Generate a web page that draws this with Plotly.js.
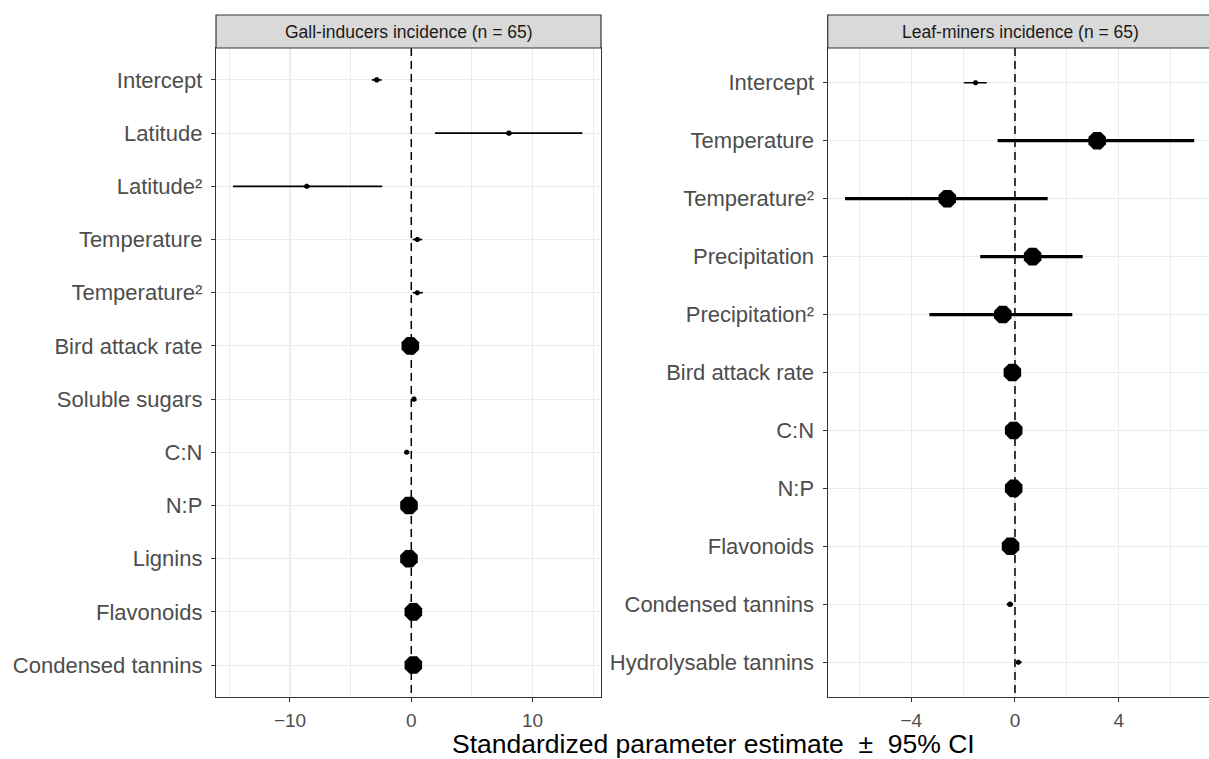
<!DOCTYPE html>
<html>
<head>
<meta charset="utf-8">
<script src="https://cdn.plot.ly/plotly-3.0.1.min.js"></script>
<style>html,body{margin:0;padding:0;background:#fff;}#chart{width:1209px;height:759px;}</style>
</head>
<body>
<div id="chart"></div>
<script>
// ---------- Data ----------
const gallTitle = "Gall-inducers incidence (n = 65)";
const gallTerms = ["Intercept","Latitude","Latitude²","Temperature","Temperature²","Bird attack rate","Soluble sugars","C:N","N:P","Lignins","Flavonoids","Condensed tannins"];
const gallEst = [-2.85, 8.05, -8.62, 0.50, 0.50, -0.08, 0.22, -0.38, -0.19, -0.19, 0.17, 0.17];
const gallLo  = [-3.25, 1.95, -14.70, 0.12, 0.12, -0.35, 0.10, -0.50, -0.45, -0.45, -0.10, -0.10];
const gallHi  = [-2.45, 14.10, -2.40, 0.90, 0.95, 0.20, 0.40, -0.25, 0.05, 0.05, 0.45, 0.45];
const gallImportance = [0.12, 0.1, 0.1, 0.1, 0.1, 1, 0.1, 0.1, 1, 1, 1, 1];

const leafTitle = "Leaf-miners incidence (n = 65)";
const leafTerms = ["Intercept","Temperature","Temperature²","Precipitation","Precipitation²","Bird attack rate","C:N","N:P","Flavonoids","Condensed tannins","Hydrolysable tannins"];
const leafEst = [-1.52, 3.17, -2.61, 0.68, -0.47, -0.10, -0.05, -0.05, -0.17, -0.19, 0.13];
const leafLo  = [-1.97, -0.67, -6.55, -1.34, -3.30, -0.30, -0.25, -0.25, -0.37, -0.32, 0.04];
const leafHi  = [-1.09, 6.91, 1.26, 2.61, 2.21, 0.10, 0.15, 0.15, 0.03, -0.07, 0.26];
const leafImportance = [0.1, 1, 1, 1, 1, 1, 1, 1, 1, 0.12, 0.1];

const referenceValue = 0;
const xTitle = "Standardized parameter estimate \u00A0\u00B1\u00A0 95% CI";

// ---------- Build ----------
const W = 1209, H = 759;
const px = v => v / W;
const py = v => (H - v) / H;
const EXP = 0.6; // discrete axis expansion (ggplot default)

function refLine(terms, xa, ya) {
  return {
    type: 'scatter', mode: 'lines', xaxis: xa, yaxis: ya,
    x: [referenceValue, referenceValue], y: [-EXP, terms.length - 1 + EXP],
    line: {color: '#000000', width: 1.5, dash: '8px,5px'},
    showlegend: false, hoverinfo: 'skip'
  };
}

function makeTraces(terms, est, lo, hi, imp, xa, ya) {
  return terms.map((t, i) => ({
    type: 'scatter', mode: 'markers', name: t,
    x: [est[i]], y: [i], xaxis: xa, yaxis: ya,
    marker: {symbol: 'octagon', color: '#000000', size: 4 + 15 * imp[i], line: {width: 0}},
    error_x: {type: 'data', symmetric: false, array: [hi[i] - est[i]], arrayminus: [est[i] - lo[i]],
              width: 0, thickness: 1.5 + 1.8 * imp[i], color: '#000000'},
    showlegend: false, hoverinfo: 'x+name'
  }));
}

const traces = [].concat(
  [refLine(gallTerms, 'x', 'y')],
  makeTraces(gallTerms, gallEst, gallLo, gallHi, gallImportance, 'x', 'y'),
  [refLine(leafTerms, 'x2', 'y2')],
  makeTraces(leafTerms, leafEst, leafLo, leafHi, leafImportance, 'x2', 'y2')
);

const fontFam = '"Liberation Sans", Arial, sans-serif';
const yDom = [py(697), py(48)];
const grid = '#EBEBEB', dark = '#333333';

function xAxis(dom, range, dtick, minorD, anchor) {
  return {
    domain: dom, anchor: anchor, range: range, tickmode: 'linear', tick0: 0, dtick: dtick,
    showgrid: true, gridcolor: grid, gridwidth: 1.1, zeroline: false,
    minor: {dtick: minorD, tick0: 0, showgrid: true, gridcolor: grid, gridwidth: 1, ticklen: 0},
    showline: true, linecolor: dark, linewidth: 1.2, mirror: true,
    ticks: 'outside', ticklen: 4, tickcolor: dark, tickwidth: 1,
    tickfont: {family: fontFam, size: 19, color: '#4D4D4D'}, ticklabelstandoff: 2,
    fixedrange: true
  };
}
function yAxis(terms, anchor, mirror) {
  return {
    domain: yDom, anchor: anchor, type: 'linear',
    tickmode: 'array', tickvals: terms.map((t, i) => i), ticktext: terms,
    range: [terms.length - 1 + EXP, -EXP],
    showgrid: true, gridcolor: grid, gridwidth: 1.1, zeroline: false,
    showline: true, linecolor: dark, linewidth: 1.2, mirror: mirror,
    ticks: 'outside', ticklen: 4, tickcolor: dark, tickwidth: 1,
    tickfont: {family: fontFam, size: 22, color: '#4D4D4D'}, ticklabelstandoff: 4,
    fixedrange: true
  };
}

const layout = {
  width: W, height: H,
  margin: {l: 0, r: 0, t: 0, b: 0, pad: 0},
  paper_bgcolor: '#FFFFFF', plot_bgcolor: '#FFFFFF',
  font: {family: fontFam},
  xaxis: xAxis([px(216), px(601)], [-16.1, 15.64], 10, 5, 'y'),
  yaxis: yAxis(gallTerms, 'x', true),
  xaxis2: xAxis([px(827.7), 1], [-7.22, 7.48], 4, 2, 'y2'),
  yaxis2: yAxis(leafTerms, 'x2', false),
  shapes: [
    {type: 'rect', xref: 'paper', yref: 'paper', x0: px(216), x1: px(601), y0: py(48), y1: py(15),
     fillcolor: '#D9D9D9', line: {color: dark, width: 1.2}},
    {type: 'rect', xref: 'paper', yref: 'paper', x0: px(827.7), x1: px(1215), y0: py(48), y1: py(15),
     fillcolor: '#D9D9D9', line: {color: dark, width: 1.2}}
  ],
  annotations: [
    {text: gallTitle, xref: 'paper', yref: 'paper', x: px(408.5), y: py(32), showarrow: false,
     xanchor: 'center', yanchor: 'middle', font: {family: fontFam, size: 17.5, color: '#1A1A1A'}},
    {text: leafTitle, xref: 'paper', yref: 'paper', x: px(1020), y: py(32), showarrow: false,
     xanchor: 'center', yanchor: 'middle', font: {family: fontFam, size: 17.5, color: '#1A1A1A'}},
    {text: xTitle, xref: 'paper', yref: 'paper', x: px(713), y: py(744), showarrow: false,
     xanchor: 'center', yanchor: 'middle', font: {family: fontFam, size: 26.5, color: '#000000'}}
  ]
};

Plotly.newPlot('chart', traces, layout, {displayModeBar: false, staticPlot: true});
</script>
</body>
</html>
